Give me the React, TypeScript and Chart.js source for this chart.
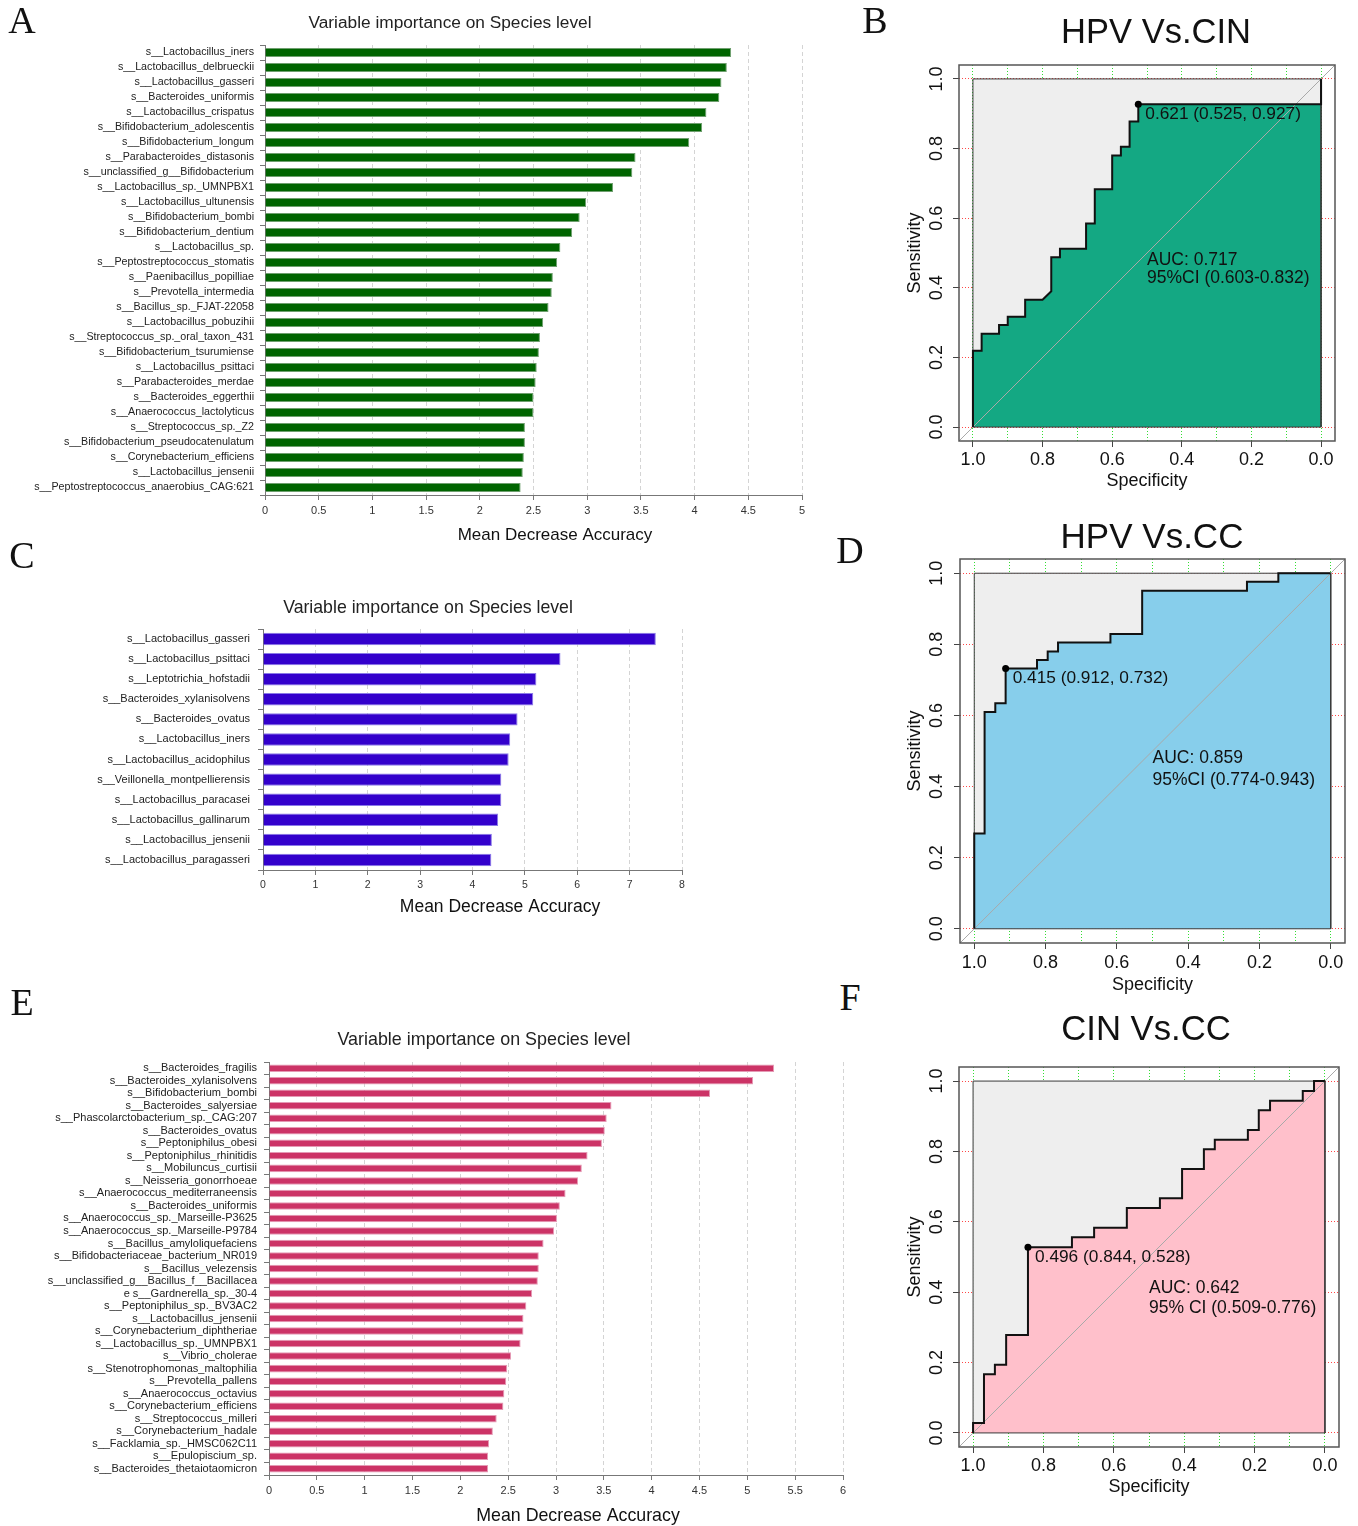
import React, { useEffect, useRef } from "react";
import { Chart, registerables } from "chart.js";

Chart.register(...registerables);

const SANS = '"Liberation Sans", Arial, Helvetica, sans-serif';
const SERIF = '"Liberation Serif", "Times New Roman", serif';

// ---------------- Panel A ----------------
const A_LABELS = [
  "s__Lactobacillus_iners",
  "s__Lactobacillus_delbrueckii",
  "s__Lactobacillus_gasseri",
  "s__Bacteroides_uniformis",
  "s__Lactobacillus_crispatus",
  "s__Bifidobacterium_adolescentis",
  "s__Bifidobacterium_longum",
  "s__Parabacteroides_distasonis",
  "s__unclassified_g__Bifidobacterium",
  "s__Lactobacillus_sp._UMNPBX1",
  "s__Lactobacillus_ultunensis",
  "s__Bifidobacterium_bombi",
  "s__Bifidobacterium_dentium",
  "s__Lactobacillus_sp.",
  "s__Peptostreptococcus_stomatis",
  "s__Paenibacillus_popilliae",
  "s__Prevotella_intermedia",
  "s__Bacillus_sp._FJAT-22058",
  "s__Lactobacillus_pobuzihii",
  "s__Streptococcus_sp._oral_taxon_431",
  "s__Bifidobacterium_tsurumiense",
  "s__Lactobacillus_psittaci",
  "s__Parabacteroides_merdae",
  "s__Bacteroides_eggerthii",
  "s__Anaerococcus_lactolyticus",
  "s__Streptococcus_sp._Z2",
  "s__Bifidobacterium_pseudocatenulatum",
  "s__Corynebacterium_efficiens",
  "s__Lactobacillus_jensenii",
  "s__Peptostreptococcus_anaerobius_CAG:621",
];
const A_VALUES = [
  4.34, 4.30, 4.25, 4.23, 4.11, 4.07, 3.95, 3.45, 3.42, 3.24,
  2.99, 2.93, 2.86, 2.75, 2.72, 2.68, 2.67, 2.64, 2.59, 2.56,
  2.55, 2.53, 2.52, 2.50, 2.50, 2.42, 2.42, 2.41, 2.40, 2.38,
];
const A_TICKS = [0, 0.5, 1, 1.5, 2, 2.5, 3, 3.5, 4, 4.5, 5];

// ---------------- Panel C ----------------
const C_LABELS = [
  "s__Lactobacillus_gasseri",
  "s__Lactobacillus_psittaci",
  "s__Leptotrichia_hofstadii",
  "s__Bacteroides_xylanisolvens",
  "s__Bacteroides_ovatus",
  "s__Lactobacillus_iners",
  "s__Lactobacillus_acidophilus",
  "s__Veillonella_montpellierensis",
  "s__Lactobacillus_paracasei",
  "s__Lactobacillus_gallinarum",
  "s__Lactobacillus_jensenii",
  "s__Lactobacillus_paragasseri",
];
const C_VALUES = [7.50, 5.68, 5.22, 5.16, 4.86, 4.72, 4.69, 4.55, 4.55, 4.49, 4.37, 4.36];
const C_TICKS = [0, 1, 2, 3, 4, 5, 6, 7, 8];

// ---------------- Panel E ----------------
const E_LABELS = [
  "s__Bacteroides_fragilis",
  "s__Bacteroides_xylanisolvens",
  "s__Bifidobacterium_bombi",
  "s__Bacteroides_salyersiae",
  "s__Phascolarctobacterium_sp._CAG:207",
  "s__Bacteroides_ovatus",
  "s__Peptoniphilus_obesi",
  "s__Peptoniphilus_rhinitidis",
  "s__Mobiluncus_curtisii",
  "s__Neisseria_gonorrhoeae",
  "s__Anaerococcus_mediterraneensis",
  "s__Bacteroides_uniformis",
  "s__Anaerococcus_sp._Marseille-P3625",
  "s__Anaerococcus_sp._Marseille-P9784",
  "s__Bacillus_amyloliquefaciens",
  "s__Bifidobacteriaceae_bacterium_NR019",
  "s__Bacillus_velezensis",
  "s__unclassified_g__Bacillus_f__Bacillacea",
  "e s__Gardnerella_sp._30-4",
  "s__Peptoniphilus_sp._BV3AC2",
  "s__Lactobacillus_jensenii",
  "s__Corynebacterium_diphtheriae",
  "s__Lactobacillus_sp._UMNPBX1",
  "s__Vibrio_cholerae",
  "s__Stenotrophomonas_maltophilia",
  "s__Prevotella_pallens",
  "s__Anaerococcus_octavius",
  "s__Corynebacterium_efficiens",
  "s__Streptococcus_milleri",
  "s__Corynebacterium_hadale",
  "s__Facklamia_sp._HMSC062C11",
  "s__Epulopiscium_sp.",
  "s__Bacteroides_thetaiotaomicron",
];
const E_VALUES = [
  5.28, 5.06, 4.61, 3.58, 3.53, 3.51, 3.48, 3.33, 3.27, 3.23,
  3.10, 3.04, 3.01, 2.98, 2.87, 2.82, 2.82, 2.81, 2.75, 2.69,
  2.66, 2.66, 2.63, 2.53, 2.49, 2.48, 2.46, 2.45, 2.38, 2.34,
  2.30, 2.29, 2.29,
];
const E_TICKS = [0, 0.5, 1, 1.5, 2, 2.5, 3, 3.5, 4, 4.5, 5, 5.5, 6];

// ---------------- ROC panels ----------------
const ROC_GRID_X = [0, 0.1, 0.2, 0.3, 0.4, 0.5, 0.6, 0.7, 0.8, 0.9, 1];
const ROC_GRID_Y = [0, 0.2, 0.4, 0.6, 0.8, 1];
const ROC_LABEL_TICKS = [1, 0.8, 0.6, 0.4, 0.2, 0];

const B_SPEC = [1, 1, 0.975, 0.975, 0.925, 0.925, 0.9, 0.9, 0.85, 0.85, 0.8, 0.775, 0.775, 0.75, 0.75, 0.675, 0.675, 0.65, 0.65, 0.6, 0.6, 0.575, 0.575, 0.55, 0.55, 0.525, 0.525, 0, 0];
const B_SENS = [0, 0.219, 0.219, 0.268, 0.268, 0.293, 0.293, 0.317, 0.317, 0.366, 0.366, 0.390, 0.488, 0.488, 0.512, 0.512, 0.585, 0.585, 0.683, 0.683, 0.780, 0.780, 0.805, 0.805, 0.878, 0.878, 0.927, 0.927, 1];
const B_BEST = { spec: 0.525, sens: 0.927, text: "0.621 (0.525, 0.927)" };
const B_AUC = ["AUC: 0.717", "95%CI (0.603-0.832)"];

const D_SPEC = [1, 1, 0.971, 0.971, 0.941, 0.941, 0.912, 0.912, 0.824, 0.824, 0.794, 0.794, 0.765, 0.765, 0.618, 0.618, 0.529, 0.529, 0.235, 0.235, 0.147, 0.147, 0];
const D_SENS = [0, 0.268, 0.268, 0.610, 0.610, 0.634, 0.634, 0.732, 0.732, 0.756, 0.756, 0.780, 0.780, 0.805, 0.805, 0.829, 0.829, 0.951, 0.951, 0.976, 0.976, 1, 1];
const D_BEST = { spec: 0.912, sens: 0.732, text: "0.415 (0.912, 0.732)" };
const D_AUC = ["AUC: 0.859", "95%CI (0.774-0.943)"];

const F_SPEC = [1, 1, 0.969, 0.969, 0.938, 0.938, 0.906, 0.906, 0.844, 0.844, 0.719, 0.719, 0.656, 0.656, 0.563, 0.563, 0.469, 0.469, 0.406, 0.406, 0.344, 0.344, 0.313, 0.313, 0.219, 0.219, 0.188, 0.188, 0.156, 0.156, 0.063, 0.063, 0.031, 0.031, 0];
const F_SENS = [0, 0.028, 0.028, 0.167, 0.167, 0.194, 0.194, 0.278, 0.278, 0.528, 0.528, 0.556, 0.556, 0.583, 0.583, 0.639, 0.639, 0.667, 0.667, 0.75, 0.75, 0.806, 0.806, 0.833, 0.833, 0.861, 0.861, 0.917, 0.917, 0.944, 0.944, 0.972, 0.972, 1, 1];
const F_BEST = { spec: 0.844, sens: 0.528, text: "0.496 (0.844, 0.528)" };
const F_AUC = ["AUC: 0.642", "95% CI (0.509-0.776)"];

type Rect = { left: number; top: number; width: number; height: number };
type Area = { left: number; right: number; top: number; bottom: number };
type PageText = { text: string; x: number; y: number; size: number; family?: string; color?: string; align?: CanvasTextAlign; rotate?: number };

function drawText(ctx: CanvasRenderingContext2D, t: PageText, x: number, y: number) {
  ctx.save();
  ctx.font = `${t.size}px ${t.family || SANS}`;
  ctx.fillStyle = t.color || "#111";
  ctx.textAlign = t.align || "center";
  ctx.textBaseline = "middle";
  ctx.translate(x, y);
  if (t.rotate) ctx.rotate(t.rotate);
  ctx.fillText(t.text, 0, 0);
  ctx.restore();
}

type BarProps = {
  labels: string[];
  values: number[];
  ticks: number[];
  color: string;
  border: string;
  barPct: number;
  canvas: Rect;
  area: Area;
  labelSize: number;
  labelPad: number;
  tickSize: number;
  texts: PageText[];
};

function BarPanel(p: BarProps) {
  const ref = useRef<HTMLCanvasElement>(null);
  useEffect(() => {
    const c = p.canvas;
    const a = p.area;
    const textPlugin = {
      id: "barTexts",
      afterDraw(chart: any) {
        p.texts.forEach((t) => drawText(chart.ctx, t, t.x - c.left, t.y - c.top));
      },
    };
    const chart = new Chart(ref.current as HTMLCanvasElement, {
      type: "bar",
      data: {
        labels: p.labels,
        datasets: [
          {
            data: p.values,
            backgroundColor: p.color,
            borderColor: p.border,
            borderWidth: 1,
            barPercentage: p.barPct,
            categoryPercentage: 1,
          },
        ],
      },
      options: {
        indexAxis: "y",
        animation: false,
        responsive: false,
        maintainAspectRatio: false,
        events: [],
        layout: { padding: { left: 0, top: a.top - c.top, right: c.left + c.width - a.right, bottom: 0 } },
        plugins: { legend: { display: false }, tooltip: { enabled: false }, title: { display: false } },
        scales: {
          x: {
            type: "linear",
            min: p.ticks[0],
            max: p.ticks[p.ticks.length - 1],
            afterBuildTicks: (s: any) => {
              s.ticks = p.ticks.map((v) => ({ value: v }));
            },
            afterFit: (s: any) => {
              s.height = c.top + c.height - a.bottom;
            },
            grid: {
              color: (ctx: any) => (ctx.tick && ctx.tick.value === 0 ? "rgba(0,0,0,0)" : "#d4d4d4"),
              lineWidth: 1,
              tickColor: "#777",
              tickLength: 5,
            },
            border: { display: true, color: "#777", width: 1, dash: [4, 3] },
            ticks: {
              font: { family: SANS, size: p.tickSize },
              color: "#333",
              padding: 4,
              maxRotation: 0,
              autoSkip: false,
              callback: (v: any) => String(v),
            },
          },
          y: {
            type: "category",
            afterFit: (s: any) => {
              s.width = a.left - c.left;
            },
            grid: { drawOnChartArea: false, tickColor: "#777", tickLength: 5, offset: true },
            border: { display: true, color: "#777", width: 1 },
            ticks: {
              font: { family: SANS, size: p.labelSize },
              color: "#222",
              padding: p.labelPad,
              autoSkip: false,
            },
          },
        },
      } as any,
      plugins: [textPlugin],
    } as any);
    return () => chart.destroy();
  }, []);
  const c = p.canvas;
  return (
    <canvas
      ref={ref}
      width={c.width}
      height={c.height}
      style={{ position: "absolute", left: c.left, top: c.top, width: c.width, height: c.height }}
    />
  );
}

type RocProps = {
  spec: number[];
  sens: number[];
  best: { spec: number; sens: number; text: string };
  auc: string[];
  aucPos: { x: number; y1: number; y2: number };
  fillColor: string;
  canvas: Rect;
  area: Area;
  title: PageText;
  xTickY: number;
  xTitleY: number;
  yTickX: number;
  yTitleX: number;
};

function RocPanel(p: RocProps) {
  const ref = useRef<HTMLCanvasElement>(null);
  useEffect(() => {
    const c = p.canvas;
    const a = p.area;
    const pts = p.spec.map((s, i) => ({ x: s, y: p.sens[i] }));
    const rocPlugin = {
      id: "rocTexts",
      afterDraw(chart: any) {
        const ctx = chart.ctx as CanvasRenderingContext2D;
        const ca = chart.chartArea;
        ctx.save();
        ctx.strokeStyle = "#555";
        ctx.lineWidth = 1.5;
        ctx.strokeRect(ca.left, ca.top, ca.right - ca.left, ca.bottom - ca.top);
        ctx.restore();
        const xs = chart.scales.x;
        const ys = chart.scales.y;
        ROC_LABEL_TICKS.forEach((v) =>
          drawText(ctx, { text: v.toFixed(1), x: 0, y: 0, size: 18 }, xs.getPixelForValue(v), p.xTickY - c.top)
        );
        ROC_GRID_Y.forEach((v) =>
          drawText(ctx, { text: v.toFixed(1), x: 0, y: 0, size: 18, rotate: -Math.PI / 2 }, p.yTickX - c.left, ys.getPixelForValue(v))
        );
        drawText(ctx, { text: "Specificity", x: 0, y: 0, size: 18 }, xs.getPixelForValue(0.5), p.xTitleY - c.top);
        drawText(ctx, { text: "Sensitivity", x: 0, y: 0, size: 18, rotate: -Math.PI / 2 }, p.yTitleX - c.left, ys.getPixelForValue(0.5));
        drawText(ctx, p.title, p.title.x - c.left, p.title.y - c.top);
        drawText(
          ctx,
          { text: p.best.text, x: 0, y: 0, size: 17.3, align: "left" },
          xs.getPixelForValue(p.best.spec) + 7,
          ys.getPixelForValue(p.best.sens) + 10
        );
        drawText(ctx, { text: p.auc[0], x: 0, y: 0, size: 17.5, align: "left" }, xs.getPixelForValue(p.aucPos.x), ys.getPixelForValue(p.aucPos.y1));
        drawText(ctx, { text: p.auc[1], x: 0, y: 0, size: 17.5, align: "left" }, xs.getPixelForValue(p.aucPos.x), ys.getPixelForValue(p.aucPos.y2));
      },
    };
    const chart = new Chart(ref.current as HTMLCanvasElement, {
      type: "line",
      data: {
        datasets: [
          {
            data: [{ x: 1, y: 1 }, { x: 0, y: 1 }],
            fill: { value: 0 },
            backgroundColor: "#EEEEEE",
            borderWidth: 0,
            borderColor: "rgba(0,0,0,0)",
            pointRadius: 0,
            order: 6,
          },
          {
            data: pts,
            fill: { value: 0 },
            backgroundColor: p.fillColor,
            borderWidth: 0,
            borderColor: "rgba(0,0,0,0)",
            pointRadius: 0,
            order: 5,
          },
          {
            data: [{ x: 1, y: 0 }, { x: 1, y: 1 }, { x: 0, y: 1 }, { x: 0, y: 0 }, { x: 1, y: 0 }],
            fill: false,
            borderColor: "#3a3a3a",
            borderWidth: 1,
            pointRadius: 0,
            order: 4,
          },
          {
            data: [{ x: 1.04, y: -0.04 }, { x: -0.04, y: 1.04 }],
            fill: false,
            borderColor: "#a9a9a9",
            borderWidth: 1,
            pointRadius: 0,
            order: 3,
          },
          {
            data: pts,
            fill: false,
            borderColor: "#111",
            borderWidth: 2,
            pointRadius: 0,
            order: 2,
          },
          {
            data: [{ x: p.best.spec, y: p.best.sens }],
            showLine: false,
            pointRadius: 3.5,
            pointBackgroundColor: "#000",
            pointBorderColor: "#000",
            pointBorderWidth: 0,
            order: 1,
          },
        ],
      },
      options: {
        animation: false,
        responsive: false,
        maintainAspectRatio: false,
        events: [],
        elements: { line: { tension: 0 } },
        layout: { padding: { left: 0, top: a.top - c.top, right: c.left + c.width - a.right, bottom: 0 } },
        plugins: { legend: { display: false }, tooltip: { enabled: false }, title: { display: false } },
        scales: {
          x: {
            type: "linear",
            reverse: true,
            min: -0.04,
            max: 1.04,
            afterBuildTicks: (s: any) => {
              s.ticks = ROC_GRID_X.map((v) => ({ value: v }));
            },
            afterFit: (s: any) => {
              s.height = c.top + c.height - a.bottom;
            },
            ticks: { display: false },
            grid: {
              color: "rgba(40,220,40,0.95)",
              lineWidth: 1,
              tickLength: 6,
              tickColor: (ctx: any) => (ctx.index % 2 === 0 ? "#444" : "rgba(0,0,0,0)"),
            },
            border: { display: false, dash: [1, 2] },
          },
          y: {
            type: "linear",
            min: -0.04,
            max: 1.04,
            afterBuildTicks: (s: any) => {
              s.ticks = ROC_GRID_Y.map((v) => ({ value: v }));
            },
            afterFit: (s: any) => {
              s.width = a.left - c.left;
            },
            ticks: { display: false },
            grid: { color: "rgba(255,60,60,0.95)", lineWidth: 1, tickLength: 6, tickColor: "#444" },
            border: { display: false, dash: [1, 2] },
          },
        },
      } as any,
      plugins: [rocPlugin],
    } as any);
    return () => chart.destroy();
  }, []);
  const c = p.canvas;
  return (
    <canvas
      ref={ref}
      width={c.width}
      height={c.height}
      style={{ position: "absolute", left: c.left, top: c.top, width: c.width, height: c.height }}
    />
  );
}

const LETTERS = [
  { t: "A", x: 22, y: 20 },
  { t: "B", x: 875, y: 20 },
  { t: "C", x: 22, y: 555 },
  { t: "D", x: 850, y: 550 },
  { t: "E", x: 22, y: 1002 },
  { t: "F", x: 850, y: 997 },
];

export default function App() {
  return (
    <div style={{ position: "absolute", left: 0, top: 0, width: 1358, height: 1526, background: "#fff", overflow: "hidden" }}>
      <BarPanel
        labels={A_LABELS}
        values={A_VALUES}
        ticks={A_TICKS}
        color="#006400"
        border="#6f9f6f"
        barPct={0.6}
        canvas={{ left: 0, top: 0, width: 880, height: 555 }}
        area={{ left: 265, right: 802, top: 45, bottom: 495 }}
        labelSize={10.7}
        labelPad={6}
        tickSize={11}
        texts={[
          { text: "Variable importance on Species level", x: 450, y: 23, size: 17.3, color: "#222" },
          { text: "Mean Decrease Accuracy", x: 555, y: 535, size: 17, color: "#111" },
        ]}
      />
      <BarPanel
        labels={C_LABELS}
        values={C_VALUES}
        ticks={C_TICKS}
        color="#3300CC"
        border="#8a7ae8"
        barPct={0.62}
        canvas={{ left: 0, top: 585, width: 720, height: 340 }}
        area={{ left: 263, right: 682, top: 629, bottom: 870 }}
        labelSize={11}
        labelPad={8}
        tickSize={10.5}
        texts={[
          { text: "Variable importance on Species level", x: 428, y: 608, size: 17.7, color: "#222" },
          { text: "Mean Decrease Accuracy", x: 500, y: 907, size: 17.5, color: "#111" },
        ]}
      />
      <BarPanel
        labels={E_LABELS}
        values={E_VALUES}
        ticks={E_TICKS}
        color="#CC3366"
        border="#e59ab5"
        barPct={0.6}
        canvas={{ left: 0, top: 1020, width: 880, height: 506 }}
        area={{ left: 269, right: 843, top: 1062, bottom: 1475 }}
        labelSize={11}
        labelPad={7}
        tickSize={11}
        texts={[
          { text: "Variable importance on Species level", x: 484, y: 1040, size: 17.9, color: "#222" },
          { text: "Mean Decrease Accuracy", x: 578, y: 1516, size: 17.8, color: "#111" },
        ]}
      />
      <RocPanel
        spec={B_SPEC}
        sens={B_SENS}
        best={B_BEST}
        auc={B_AUC}
        aucPos={{ x: 0.5, y1: 0.48, y2: 0.428 }}
        fillColor="#14A883"
        canvas={{ left: 890, top: 0, width: 468, height: 500 }}
        area={{ left: 959, right: 1335, top: 65, bottom: 441 }}
        title={{ text: "HPV Vs.CIN", x: 1156, y: 33, size: 34.5 }}
        xTickY={460}
        xTitleY={481}
        yTickX={937}
        yTitleX={915}
      />
      <RocPanel
        spec={D_SPEC}
        sens={D_SENS}
        best={D_BEST}
        auc={D_AUC}
        aucPos={{ x: 0.5, y1: 0.48, y2: 0.419 }}
        fillColor="#87CEEB"
        canvas={{ left: 890, top: 505, width: 468, height: 505 }}
        area={{ left: 960, right: 1345, top: 559, bottom: 943 }}
        title={{ text: "HPV Vs.CC", x: 1152, y: 538, size: 35 }}
        xTickY={963}
        xTitleY={985}
        yTickX={937}
        yTitleX={915}
      />
      <RocPanel
        spec={F_SPEC}
        sens={F_SENS}
        best={F_BEST}
        auc={F_AUC}
        aucPos={{ x: 0.5, y1: 0.412, y2: 0.354 }}
        fillColor="#FFC0CB"
        canvas={{ left: 890, top: 1010, width: 468, height: 516 }}
        area={{ left: 959, right: 1339, top: 1067, bottom: 1447 }}
        title={{ text: "CIN Vs.CC", x: 1146, y: 1030, size: 34.7 }}
        xTickY={1466}
        xTitleY={1487}
        yTickX={937}
        yTitleX={915}
      />
      {LETTERS.map((l) => (
        <div
          key={l.t}
          style={{
            position: "absolute",
            left: l.x,
            top: l.y,
            transform: "translate(-50%, -50%)",
            fontFamily: SERIF,
            fontSize: 38,
            lineHeight: 1,
            color: "#111",
          }}
        >
          {l.t}
        </div>
      ))}
    </div>
  );
}
